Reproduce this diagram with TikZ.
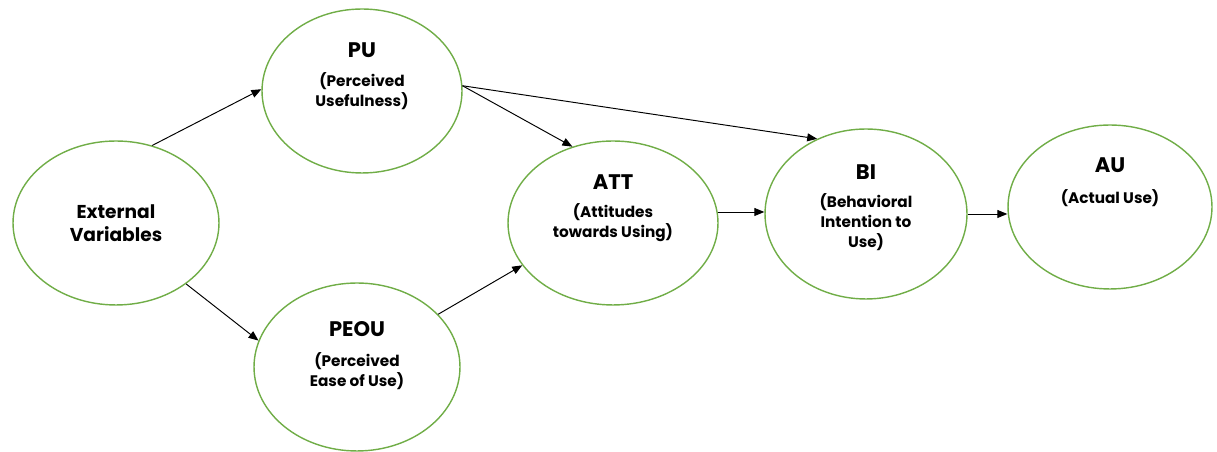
\documentclass[tikz,border=0pt]{standalone}
\usepackage{fontspec}
\setmainfont{Poppins}
\usetikzlibrary{shapes.geometric,arrows.meta,positioning}
\definecolor{tamgreen}{RGB}{112,173,71}
\begin{document}
\begin{tikzpicture}[x=0.02cm,y=0.02cm,
  construct/.style={draw=tamgreen,line width=0.8pt,ellipse,inner sep=0pt},
  title/.style={font=\bfseries\fontsize{12}{14}\selectfont,anchor=base},
  sub/.style={font=\bfseries\fontsize{8.7}{11.4}\selectfont,align=center,anchor=base},
  link/.style={-{Triangle[length=0.2cm,width=0.16cm]},line width=0.55pt}]
\useasboundingbox (0,0) rectangle (1217,452);
% constructs
\node[construct,minimum width=4.12cm,minimum height=3.28cm,align=center,
  font=\bfseries\fontsize{10.6}{13.1}\selectfont] (ev) at (116,229) {External\\Variables};
\node[construct,minimum width=4.0cm,minimum height=3.28cm] (pu) at (362,361) {};
\node[construct,minimum width=4.12cm,minimum height=3.36cm] (peou) at (357,85) {};
\node[construct,minimum width=4.2cm,minimum height=3.28cm] (att) at (613,229) {};
\node[construct,minimum width=4.04cm,minimum height=3.4cm] (bi) at (866,238) {};
\node[construct,minimum width=4.08cm,minimum height=3.28cm] (au) at (1110,245) {};
% labels (base = last line)
\node[title] (pu-t) at ([yshift=0.67cm]pu.center) {PU};
\node[sub] (pu-s) at ([yshift=-0.32cm]pu.center) {(Perceived\\Usefulness)};
\node[title] (peou-t) at ([yshift=0.61cm]peou.center) {PEOU};
\node[sub] (peou-s) at ([yshift=-0.4cm]peou.center) {(Perceived\\Ease of Use)};
\node[title] (att-t) at ([yshift=0.67cm]att.center) {ATT};
\node[sub] (att-s) at ([yshift=-0.3cm]att.center) {(Attitudes\\towards Using)};
\node[title] (bi-t) at ([yshift=0.69cm]bi.center) {BI};
\node[sub] (bi-s) at ([yshift=-0.68cm]bi.center) {(Behavioral\\Intention to\\Use)};
\node[title] (au-t) at ([yshift=0.69cm]au.center) {AU};
\node[sub] (au-s) at ([yshift=0.06cm]au.center) {(Actual Use)};
% paths
\draw[link] (ev.65) -- (pu.179);
\draw[link] (ev.-41) -- (peou.165);
\draw[link] (pu.3) -- (att.118);
\draw[link] (pu.3) -- (bi.123);
\draw[link] (peou.33) -- (att.-155);
\draw[link] (att.6) -- (att.6 -| bi.west);
\draw[link] (bi.east) -- (bi.east -| au.west);
\end{tikzpicture}
\end{document}
